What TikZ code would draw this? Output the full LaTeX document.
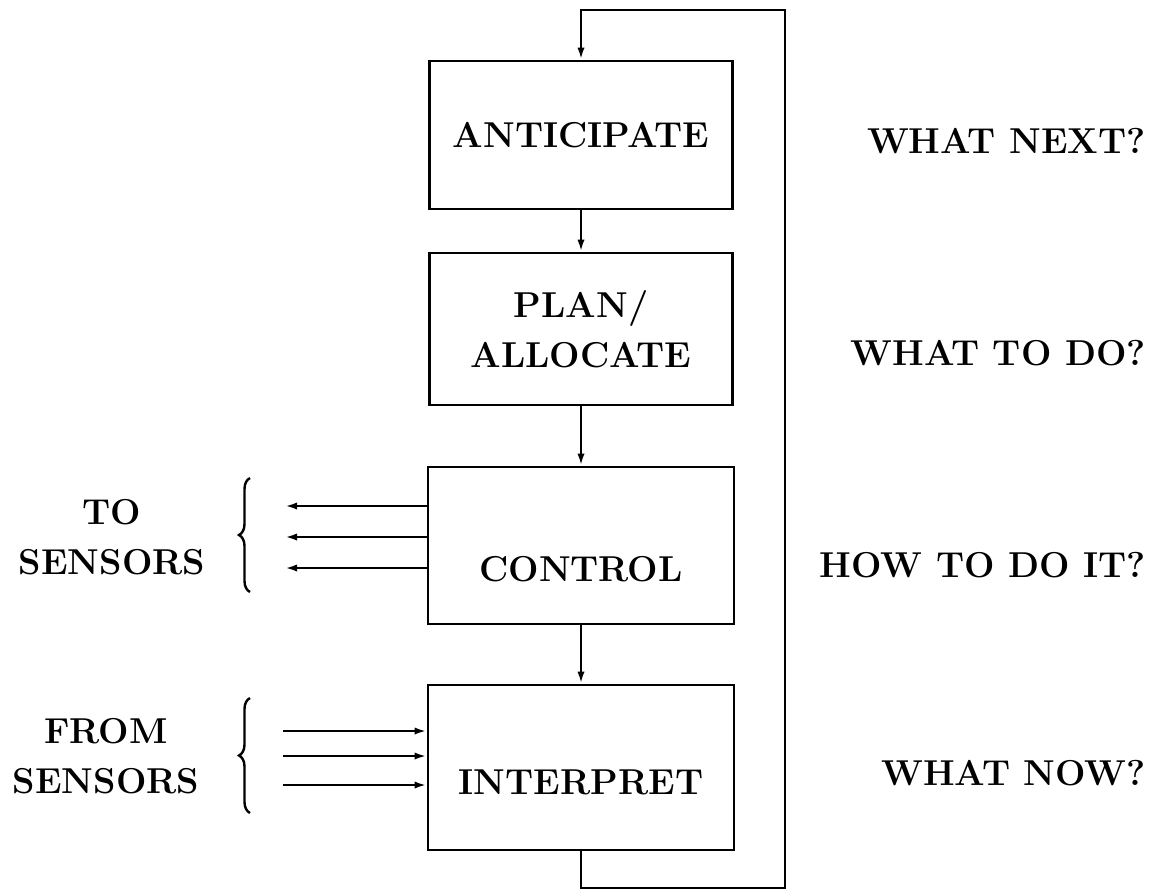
\documentclass[tikz,border=0pt]{standalone}
\usetikzlibrary{arrows.meta,decorations.pathreplacing}
\newcommand\diaglbl{\fontsize{18}{25}\selectfont\bfseries}
\begin{document}
\begin{tikzpicture}[x=0.5pt,y=-0.5pt,
  box/.style={draw, line width=1.4pt, inner sep=0pt, align=center, font=\diaglbl},
  txt/.style={align=center, font=\diaglbl, inner sep=0pt},
  conn/.style={line width=1.2pt, -{Latex[length=6pt,width=3.6pt]}},
  brc/.style={line width=1.2pt, decorate, decoration={brace, amplitude=5.5pt}}]
\useasboundingbox (0,0) rectangle (1155,891);

% boxes
\node[box, minimum width=151.5pt, minimum height=74pt] (ant) at (581,135) {ANTICIPATE};
\node[box, minimum width=151.5pt, minimum height=76pt] (plan) at (581,329) {PLAN/\\ALLOCATE};
\node[box, minimum width=153pt, minimum height=78.5pt,
      label={[txt, yshift=-11.75pt]center:CONTROL}] (ctrl) at (581,545.5) {};
\node[box, minimum width=153pt, minimum height=82.5pt,
      label={[txt, yshift=-7.25pt]center:INTERPRET}] (interp) at (581,767.5) {};

% chain
\draw[conn] (ant) -- (plan);
\draw[conn] (plan) -- (ctrl);
\draw[conn] (ctrl) -- (interp);

% feedback loop
\coordinate (br) at (785,888);
\coordinate (tr) at (785,10);
\draw[conn] (interp.south) |- (br) -- (tr) -| (ant.north);

% to sensors
\coordinate (co1) at (285,506);
\coordinate (co2) at (285,537);
\coordinate (co3) at (285,568);
\draw[conn] (ctrl.west |- co1) -- (co1);
\draw[conn] (ctrl.west |- co2) -- (co2);
\draw[conn] (ctrl.west |- co3) -- (co3);

% from sensors
\coordinate (fi1) at (283,731);
\coordinate (fi2) at (283,756);
\coordinate (fi3) at (283,785);
\draw[conn] (fi1) -- (interp.west |- fi1);
\draw[conn] (fi2) -- (interp.west |- fi2);
\draw[conn] (fi3) -- (interp.west |- fi3);

% braces
\coordinate (b1a) at (250,592);
\coordinate (b1b) at (250,478);
\coordinate (b2a) at (250,813);
\coordinate (b2b) at (250,698);
\draw[brc] (b1a) -- (b1b);
\draw[brc] (b2a) -- (b2b);

% left labels
\node[txt] (tosens) at (112,537) {TO\\SENSORS};
\node[txt] (fromsens) at (106,756) {FROM\\SENSORS};

% right labels
\node[txt, anchor=east] (q1) at (1146,141) {WHAT NEXT?};
\node[txt, anchor=east] (q2) at (1146,353) {WHAT TO DO?};
\node[txt, anchor=east] (q3) at (1146,565) {HOW TO DO IT?};
\node[txt, anchor=east] (q4) at (1146,773) {WHAT NOW?};
\end{tikzpicture}
\end{document}
